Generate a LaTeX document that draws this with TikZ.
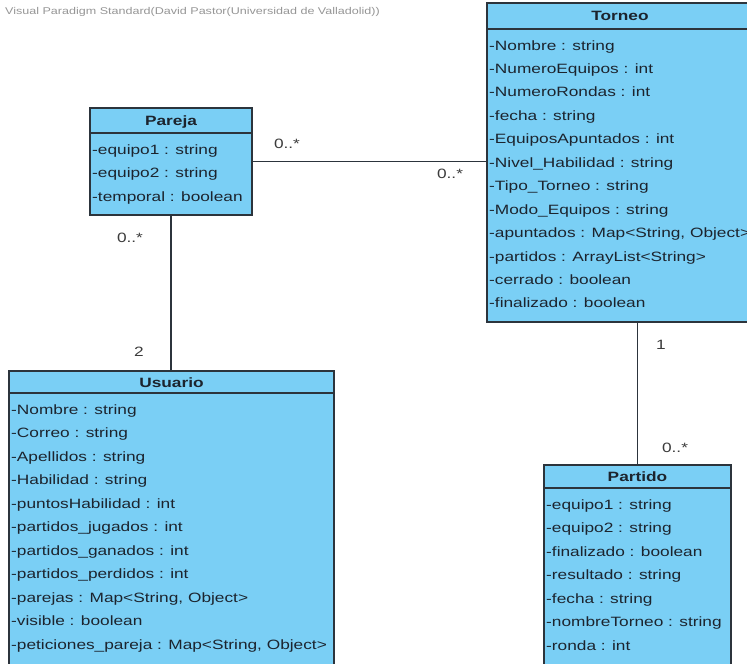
\documentclass[tikz,border=0pt]{standalone}
\usepackage{fontspec}
\setmainfont{Liberation Sans}[FakeStretch=1.28]
\usetikzlibrary{calc}
\definecolor{classfill}{RGB}{122,207,245}
\definecolor{boxline}{RGB}{44,52,60}
\definecolor{ink}{RGB}{28,36,46}
\definecolor{labelgray}{RGB}{60,60,60}
\definecolor{markgray}{RGB}{150,150,150}
\begin{document}
\begin{tikzpicture}[x=1pt,y=-1pt,
  classbox/.style={draw=boxline, fill=classfill, line width=1.3pt, inner sep=0pt, outer sep=0pt, anchor=north west},
  divider/.style={draw=boxline, line width=1.3pt},
  classtitle/.style={font=\fontsize{13.5}{14}\selectfont\bfseries, text=ink, inner sep=0pt, anchor=base},
  attr/.style={font=\fontsize{13.5}{14}\selectfont, text=ink, inner sep=0pt, anchor=base west},
  mult/.style={font=\fontsize{13.5}{14}\selectfont, text=labelgray, inner sep=0pt},
  assoc/.style={draw=boxline, line width=1.3pt}]
\useasboundingbox (0,0) rectangle (747,664);
\fill[white] (0,0) rectangle (747,664);
\clip (0,0) rectangle (747,664);

% watermark
\node[font=\fontsize{9.8}{10}\selectfont, text=markgray, inner sep=0pt, anchor=base west] (mark) at (5,14)
  {Visual Paradigm Standard(David Pastor(Universidad de Valladolid))};

% class Pareja
\node[classbox, minimum width=162pt, minimum height=107pt] (pareja) at (90,108) {};
\draw[divider] ($(pareja.north west)+(0,25)$) -- ($(pareja.north east)+(0,25)$);
\node[classtitle] (pareja-title) at ($(pareja.north)+(0,17)$) {Pareja};
\foreach \t [count=\i from 0] in {{-equipo1 : string},{-equipo2 : string},{-temporal : boolean}}
  \node[attr] (pareja-\i) at ($(pareja.north west)+(2,46+\i*23.5)$) {\t};

% class Torneo
\node[classbox, minimum width=266pt, minimum height=319pt] (torneo) at (487,3) {};
\draw[divider] ($(torneo.north west)+(0,26)$) -- ($(torneo.north east)+(0,26)$);
\node[classtitle] (torneo-title) at ($(torneo.north)+(0,17)$) {Torneo};
\foreach \t [count=\i from 0] in {{-Nombre : string},{-NumeroEquipos : int},{-NumeroRondas : int},
    {-fecha : string},{-EquiposApuntados : int},{-Nivel\_Habilidad : string},{-Tipo\_Torneo : string},
    {-Modo\_Equipos : string},{-apuntados : Map<String, Object>},{-partidos : ArrayList<String>},
    {-cerrado : boolean},{-finalizado : boolean}}
  \node[attr] (torneo-\i) at ($(torneo.north west)+(2,47+\i*23.45)$) {\t};

% class Usuario
\node[classbox, minimum width=325pt, minimum height=320pt] (usuario) at (9,371) {};
\draw[divider] ($(usuario.north west)+(0,22)$) -- ($(usuario.north east)+(0,22)$);
\node[classtitle] (usuario-title) at ($(usuario.north)+(0,16)$) {Usuario};
\foreach \t [count=\i from 0] in {{-Nombre : string},{-Correo : string},{-Apellidos : string},
    {-Habilidad : string},{-puntosHabilidad : int},{-partidos\_jugados : int},{-partidos\_ganados : int},
    {-partidos\_perdidos : int},{-parejas : Map<String, Object>},{-visible : boolean},
    {-peticiones\_pareja : Map<String, Object>}}
  \node[attr] (usuario-\i) at ($(usuario.north west)+(2,43+\i*23.5)$) {\t};

% class Partido
\node[classbox, minimum width=187pt, minimum height=220pt] (partido) at (544,465) {};
\draw[divider] ($(partido.north west)+(0,23)$) -- ($(partido.north east)+(0,23)$);
\node[classtitle] (partido-title) at ($(partido.north)+(0,16)$) {Partido};
\foreach \t [count=\i from 0] in {{-equipo1 : string},{-equipo2 : string},{-finalizado : boolean},
    {-resultado : string},{-fecha : string},{-nombreTorneo : string},{-ronda : int}}
  \node[attr] (partido-\i) at ($(partido.north west)+(2,44+\i*23.5)$) {\t};

% associations
\draw[assoc] (pareja.east) -- (pareja.east -| torneo.west);
\draw[assoc] (pareja.south) -- (pareja.south |- usuario.north);
\draw[assoc] (partido.north) -- (partido.north |- torneo.south);

% multiplicities
\node[mult] (m-pt) at (287,144) {0..*};
\node[mult] (m-tp) at (450,174) {0..*};
\node[mult] (m-pu) at (130,238) {0..*};
\node[mult] (m-up) at (139,352) {2};
\node[mult] (m-tr) at (661,345) {1};
\node[mult] (m-pa) at (675,448) {0..*};
\end{tikzpicture}
\end{document}
